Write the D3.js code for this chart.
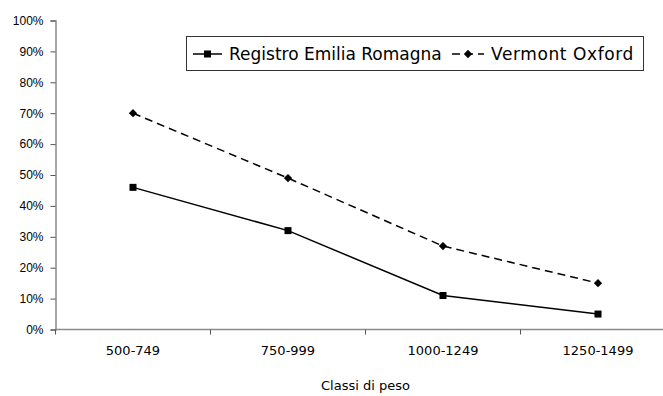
<!DOCTYPE html>
<html>
<head>
<meta charset="utf-8">
<script src="https://cdn.jsdelivr.net/npm/d3@7"></script>
<style>
  html, body { margin: 0; padding: 0; background: #fff; }
  svg { display: block; font-family: "DejaVu Sans", sans-serif; }
</style>
</head>
<body>
<svg id="chart" width="663" height="396"></svg>
<script>
// Weight classes (grams) on the x axis
const categories = ["500-749", "750-999", "1000-1249", "1250-1499"];
// Share per weight class, percent
const registroValues = [46, 32, 11, 5];
const vermontValues = [70, 49, 27, 15];
const seriesNames = ["Registro Emilia Romagna", "Vermont Oxford"];
const yTicks = [0, 10, 20, 30, 40, 50, 60, 70, 80, 90, 100];
const xTitle = "Classi di peso";

const svg = d3.select("#chart");
const plotLeft = 55.5, plotRight = 675.5, plotTop = 20.5, plotBottom = 329.5;

const x = d3.scaleBand().domain(categories).range([plotLeft, plotRight]);
const y = d3.scaleLinear().domain([0, 100]).range([plotBottom, plotTop]);

const axisColor = "#8a8a8a";

// Y axis
const yAxis = svg.append("g")
  .attr("transform", `translate(${plotLeft},0)`)
  .call(d3.axisLeft(y).tickValues(yTicks).tickSize(5).tickPadding(7)
        .tickFormat(d => d + "%"));
yAxis.select(".domain").attr("stroke", axisColor).attr("stroke-width", 1.5);
yAxis.selectAll(".tick line").attr("stroke", "#555");
yAxis.selectAll("text").attr("font-size", 12).attr("fill", "#000");

// X axis: ticks at band boundaries
const xAxis = svg.append("g")
  .attr("transform", `translate(0,${plotBottom})`);
xAxis.append("line")
  .attr("x1", plotLeft).attr("x2", plotRight)
  .attr("stroke", axisColor).attr("stroke-width", 1.5);
const bounds = categories.map(c => x(c));
xAxis.selectAll("line.tk").data(bounds).join("line")
  .attr("class", "tk")
  .attr("x1", d => d).attr("x2", d => d)
  .attr("y1", 0).attr("y2", 5)
  .attr("stroke", "#555");
xAxis.selectAll("text").data(categories).join("text")
  .attr("x", d => x(d) + x.bandwidth() / 2)
  .attr("y", 25)
  .attr("text-anchor", "middle")
  .attr("font-size", 13)
  .text(d => d);

svg.append("text")
  .attr("x", (plotLeft + plotRight) / 2)
  .attr("y", 390)
  .attr("text-anchor", "middle")
  .attr("font-size", 13)
  .text(xTitle);

const cx = d => x(d) + x.bandwidth() / 2;
const line = d3.line().x(d => cx(d.c)).y(d => y(d.v));

const regData = categories.map((c, i) => ({ c, v: registroValues[i] }));
const verData = categories.map((c, i) => ({ c, v: vermontValues[i] }));

// Vermont Oxford: dashed line with diamonds
svg.append("path").datum(verData)
  .attr("d", line).attr("fill", "none")
  .attr("stroke", "#000").attr("stroke-width", 1.5)
  .attr("stroke-dasharray", "8,5");
const diamond = d3.symbol().type(d3.symbolDiamond2).size(44);
svg.selectAll("path.dia").data(verData).join("path")
  .attr("class", "dia")
  .attr("d", diamond)
  .attr("transform", d => `translate(${cx(d.c)},${y(d.v)})`)
  .attr("fill", "#000");

// Registro Emilia Romagna: solid line with squares
svg.append("path").datum(regData)
  .attr("d", line).attr("fill", "none")
  .attr("stroke", "#000").attr("stroke-width", 1.5);
svg.selectAll("rect.sq").data(regData).join("rect")
  .attr("class", "sq")
  .attr("x", d => cx(d.c) - 3.5).attr("y", d => y(d.v) - 3.5)
  .attr("width", 7).attr("height", 7)
  .attr("fill", "#000");

// Legend
const lg = svg.append("g");
lg.append("rect")
  .attr("x", 186.5).attr("y", 36.5)
  .attr("width", 457).attr("height", 34)
  .attr("fill", "#fff").attr("stroke", "#333").attr("stroke-width", 1);
const ly = 54;
lg.append("line").attr("x1", 193).attr("x2", 222).attr("y1", ly).attr("y2", ly)
  .attr("stroke", "#000").attr("stroke-width", 1.5);
lg.append("rect").attr("x", 204).attr("y", ly - 3.5).attr("width", 7).attr("height", 7).attr("fill", "#000");
lg.append("text").attr("x", 229).attr("y", ly + 6).attr("font-size", 17).text(seriesNames[0]);
lg.append("line").attr("x1", 452).attr("x2", 484).attr("y1", ly).attr("y2", ly)
  .attr("stroke", "#000").attr("stroke-width", 1.5).attr("stroke-dasharray", "8,5");
lg.append("path").attr("d", diamond).attr("transform", `translate(468,${ly})`).attr("fill", "#000");
lg.append("text").attr("x", 491).attr("y", ly + 6).attr("font-size", 17)
  .attr("letter-spacing", 0.6).text(seriesNames[1]);
</script>
</body>
</html>
